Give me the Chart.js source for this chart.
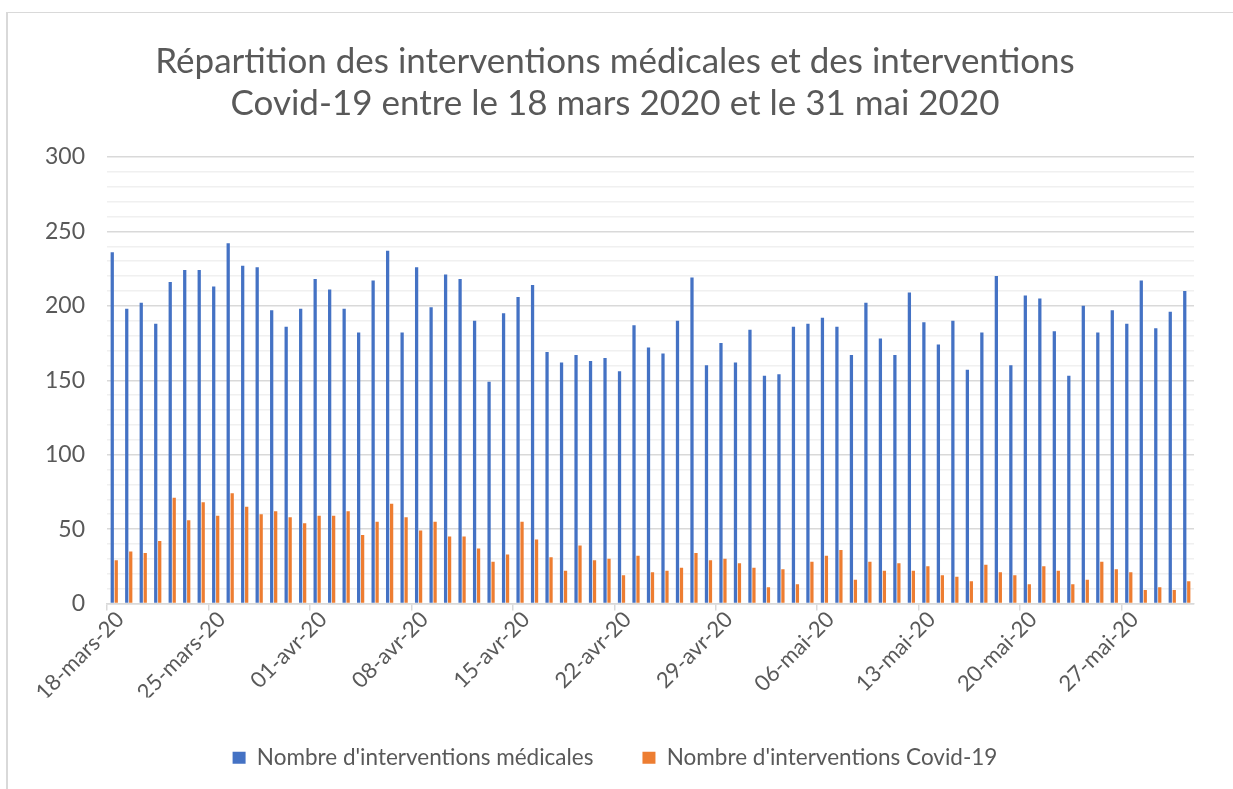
<!DOCTYPE html>
<html><head><meta charset="utf-8">
<script src="https://cdn.jsdelivr.net/npm/chart.js@4"></script>
<style>
html,body{margin:0;padding:0;background:#fff;overflow:hidden;}
#frame{position:absolute;left:6px;top:12px;width:1300px;height:900px;border-left:2px solid #d9d9d9;border-top:1px solid #d9d9d9;}
#wrap{position:absolute;left:0;top:0;width:1233px;height:789px;}
</style></head>
<body>
<div id="frame"></div>
<div id="wrap"><canvas id="c" width="1233" height="789"></canvas></div>
<script>
const categories = [
"18-mars-20","19-mars-20","20-mars-20","21-mars-20","22-mars-20","23-mars-20","24-mars-20","25-mars-20","26-mars-20","27-mars-20","28-mars-20","29-mars-20","30-mars-20","31-mars-20",
"01-avr-20","02-avr-20","03-avr-20","04-avr-20","05-avr-20","06-avr-20","07-avr-20","08-avr-20","09-avr-20","10-avr-20","11-avr-20","12-avr-20","13-avr-20","14-avr-20","15-avr-20",
"16-avr-20","17-avr-20","18-avr-20","19-avr-20","20-avr-20","21-avr-20","22-avr-20","23-avr-20","24-avr-20","25-avr-20","26-avr-20","27-avr-20","28-avr-20","29-avr-20","30-avr-20",
"01-mai-20","02-mai-20","03-mai-20","04-mai-20","05-mai-20","06-mai-20","07-mai-20","08-mai-20","09-mai-20","10-mai-20","11-mai-20","12-mai-20","13-mai-20","14-mai-20","15-mai-20",
"16-mai-20","17-mai-20","18-mai-20","19-mai-20","20-mai-20","21-mai-20","22-mai-20","23-mai-20","24-mai-20","25-mai-20","26-mai-20","27-mai-20","28-mai-20","29-mai-20","30-mai-20","31-mai-20"
];
const medicales = [
236,198,202,188,216,224,224,213,242,227,226,197,186,198,
218,211,198,182,217,237,182,226,199,221,218,190,149,195,206,
214,169,162,167,163,165,156,187,172,168,190,219,160,175,162,
184,153,154,186,188,192,186,167,202,178,167,209,189,174,190,
157,182,220,160,207,205,183,153,200,182,197,188,217,185,196,210
];
const covid = [
29,35,34,42,71,56,68,59,74,65,60,62,58,54,
59,59,62,46,55,67,58,49,55,45,45,37,28,33,55,
43,31,22,39,29,30,19,32,21,22,24,34,29,30,27,
24,11,23,13,28,32,36,16,28,22,27,22,25,19,18,
15,26,21,19,13,25,22,13,16,28,23,21,9,11,9,15
];
const tickLabels = ["18-mars-20","25-mars-20","01-avr-20","08-avr-20","15-avr-20","22-avr-20","29-avr-20","06-mai-20","13-mai-20","20-mai-20","27-mai-20"];
const yTickLabels = [0,50,100,150,200,250,300];
const seriesNames = ["Nombre d'interventions médicales","Nombre d'interventions Covid-19"];
const titleLines = ["Répartition des interventions médicales et des interventions","Covid-19 entre le 18 mars 2020 et le 31 mai 2020"];

const FONT = "Lato";
const TXT = "#595959";

new Chart(document.getElementById('c'), {
  type: 'bar',
  data: {
    labels: categories,
    datasets: [
      {label: seriesNames[0], data: medicales, backgroundColor: '#4472C4', categoryPercentage: 0.55, barPercentage: 0.82},
      {label: seriesNames[1], data: covid, backgroundColor: '#ED7D31', categoryPercentage: 0.55, barPercentage: 0.82}
    ]
  },
  options: {
    responsive: false,
    animation: false,
    layout: {padding: {left: 36, right: 39, top: 41, bottom: 10}},
    plugins: {
      tooltip: {enabled: false},
      title: {
        display: true, text: titleLines, color: TXT,
        font: {family: FONT, size: 35, weight: 'normal', lineHeight: 1.2},
        padding: {top: 0, bottom: 32}
      },
      legend: {
        position: 'bottom',
        labels: {color: TXT, font: {family: FONT, size: 22.5}, boxWidth: 13, boxHeight: 12, padding: 49}
      }
    },
    scales: {
      x: {
        offset: true,
        afterFit: (s) => { s.height = 94; },
        border: {display: true, color: '#d9d9d9', width: 1.5},
        grid: {
          offset: true, drawOnChartArea: false, drawTicks: true, tickLength: 7, lineWidth: 1.5,
          color: (ctx) => (ctx.tick && tickLabels.includes(categories[ctx.index])) ? '#d9d9d9' : 'rgba(0,0,0,0)'
        },
        ticks: {
          autoSkip: false, maxRotation: 45, minRotation: 45, color: TXT, padding: -4,
          labelOffset: 6,
          font: {family: FONT, size: 22},
          callback: (v, i) => tickLabels.includes(categories[i]) ? categories[i] : ''
        }
      },
      y: {
        min: yTickLabels[0], max: yTickLabels[yTickLabels.length - 1],
        afterFit: (s) => { s.width = 71; },
        border: {display: false},
        grid: {
          drawTicks: false,
          color: (ctx) => (ctx.tick && yTickLabels.includes(ctx.tick.value)) ? '#d9d9d9' : '#f0f0f0',
          lineWidth: 1.5
        },
        ticks: {
          stepSize: 10, autoSkip: false, color: TXT, padding: 22,
          font: {family: FONT, size: 23},
          callback: (v) => yTickLabels.includes(v) ? v : ''
        }
      }
    }
  }
});
</script>
</body></html>
